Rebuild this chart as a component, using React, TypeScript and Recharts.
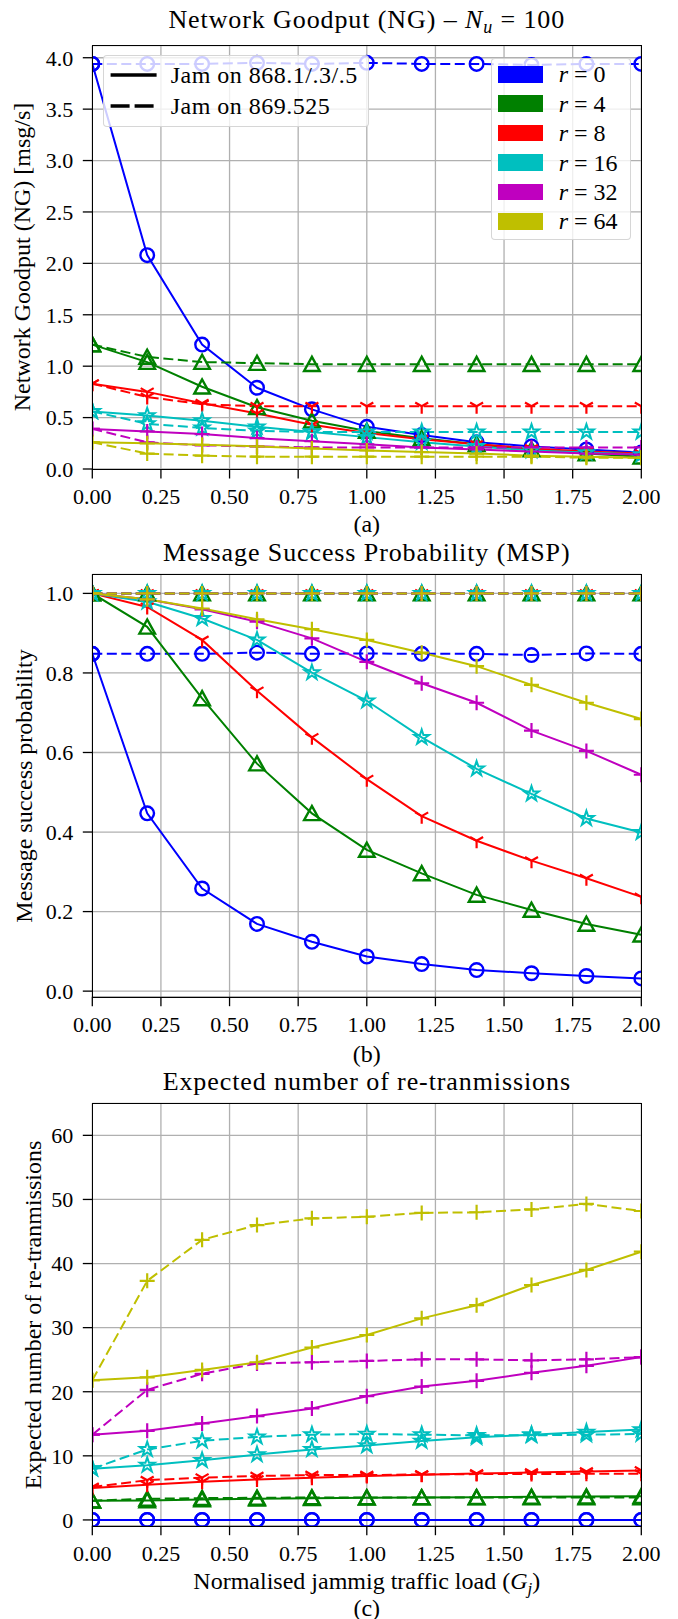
import React from 'react'
import { LineChart, Line, XAxis, YAxis, CartesianGrid } from 'recharts'

const FONT = 'Liberation Serif, Times New Roman, serif'

// jamming load G_j
const xs = [0, 0.2, 0.4, 0.6, 0.8, 1.0, 1.2, 1.4, 1.6, 1.8, 2.0]
const xTicks = [0, 0.25, 0.5, 0.75, 1, 1.25, 1.5, 1.75, 2]
const rValues = [0, 4, 8, 16, 32, 64]
const rColors = ['#0000ff', '#008000', '#ff0000', '#00bfbf', '#bf00bf', '#bfbf00']
const rMarkers = ['circle', 'triangle', 'tri', 'star', 'plus', 'plus']

// (a) network goodput, order r = 0, 4, 8, 16, 32, 64
const ngSolid = [
  [3.94, 2.08, 1.21, 0.79, 0.58, 0.41, 0.33, 0.26, 0.22, 0.19, 0.16],
  [1.21, 1.04, 0.8, 0.6, 0.47, 0.37, 0.3, 0.24, 0.19, 0.15, 0.12],
  [0.83, 0.75, 0.64, 0.54, 0.43, 0.35, 0.29, 0.24, 0.2, 0.17, 0.15],
  [0.56, 0.52, 0.47, 0.41, 0.36, 0.31, 0.26, 0.22, 0.18, 0.16, 0.14],
  [0.39, 0.365, 0.34, 0.3, 0.27, 0.24, 0.21, 0.19, 0.17, 0.15, 0.14],
  [0.26, 0.25, 0.235, 0.22, 0.2, 0.18, 0.165, 0.15, 0.13, 0.12, 0.11],
]
const ngDashed = [
  [3.94, 3.94, 3.94, 3.95, 3.94, 3.95, 3.94, 3.94, 3.93, 3.94, 3.94],
  [1.21, 1.09, 1.04, 1.03, 1.02, 1.02, 1.02, 1.02, 1.02, 1.02, 1.02],
  [0.83, 0.7, 0.63, 0.61, 0.61, 0.61, 0.61, 0.61, 0.61, 0.61, 0.61],
  [0.56, 0.44, 0.4, 0.37, 0.36, 0.36, 0.36, 0.36, 0.36, 0.36, 0.36],
  [0.39, 0.26, 0.23, 0.22, 0.21, 0.21, 0.21, 0.21, 0.21, 0.21, 0.21],
  [0.26, 0.15, 0.13, 0.12, 0.12, 0.12, 0.12, 0.12, 0.12, 0.11, 0.11],
]

// (b) message success probability
const mspSolid = [
  [0.848, 0.447, 0.258, 0.169, 0.124, 0.087, 0.068, 0.053, 0.045, 0.038, 0.032],
  [1.0, 0.916, 0.736, 0.572, 0.447, 0.355, 0.296, 0.242, 0.204, 0.169, 0.142],
  [1.0, 0.966, 0.883, 0.755, 0.638, 0.533, 0.44, 0.378, 0.328, 0.284, 0.237],
  [1.0, 0.979, 0.937, 0.883, 0.801, 0.73, 0.638, 0.559, 0.496, 0.434, 0.399],
  [1.0, 0.985, 0.96, 0.929, 0.887, 0.828, 0.774, 0.725, 0.655, 0.604, 0.544],
  [1.0, 0.985, 0.962, 0.935, 0.91, 0.883, 0.851, 0.817, 0.77, 0.725, 0.684],
]
const mspDashed = [
  [0.848, 0.848, 0.848, 0.851, 0.848, 0.849, 0.848, 0.848, 0.845, 0.849, 0.848],
  [1, 1, 1, 1, 1, 1, 1, 1, 1, 1, 1],
  [1, 1, 1, 1, 1, 1, 1, 1, 1, 1, 1],
  [1, 1, 1, 1, 1, 1, 1, 1, 1, 1, 1],
  [1, 1, 1, 1, 1, 1, 1, 1, 1, 1, 1],
  [1, 1, 1, 1, 1, 1, 1, 1, 1, 1, 1],
]

// (c) expected number of re-transmissions
const retxSolid = [
  [0, 0, 0, 0, 0, 0, 0, 0, 0, 0, 0],
  [3.0, 3.05, 3.2, 3.3, 3.4, 3.45, 3.5, 3.55, 3.6, 3.65, 3.7],
  [5.0, 5.5, 5.95, 6.3, 6.6, 6.85, 7.05, 7.25, 7.4, 7.55, 7.7],
  [8.0, 8.55, 9.3, 10.2, 11.0, 11.6, 12.3, 12.9, 13.3, 13.7, 14.1],
  [13.3, 13.9, 15.05, 16.2, 17.4, 19.3, 20.8, 21.7, 22.95, 24.05, 25.4],
  [21.8, 22.25, 23.4, 24.6, 26.9, 28.85, 31.45, 33.5, 36.65, 39.0, 41.85],
]
const retxDashed = [
  [0, 0, 0, 0, 0, 0, 0, 0, 0, 0, 0],
  [3.0, 3.3, 3.4, 3.45, 3.5, 3.5, 3.5, 3.5, 3.5, 3.5, 3.5],
  [5.15, 6.2, 6.6, 6.85, 7.0, 7.0, 7.1, 7.15, 7.15, 7.2, 7.2],
  [8.0, 11.0, 12.35, 12.95, 13.3, 13.4, 13.3, 13.2, 13.2, 13.3, 13.4],
  [13.3, 20.3, 22.8, 24.4, 24.6, 24.8, 25.05, 25.05, 24.9, 25.05, 25.4],
  [21.8, 37.3, 43.7, 46.0, 47.05, 47.3, 47.9, 48.0, 48.45, 49.3, 48.2],
]

const ngTicks = [0, 0.5, 1, 1.5, 2, 2.5, 3, 3.5, 4]
const mspTicks = [0, 0.2, 0.4, 0.6, 0.8, 1]
const retxTicks = [0, 10, 20, 30, 40, 50, 60]

const PLOT_LEFT = 92.3
const PLOT_RIGHT = 641.3
const DASH = '10 4.5'

function marker(shape: string, color: string) {
  return (p: any) => {
    const { cx, cy, index } = p
    const key = `m-${index}`
    if (cx == null || cy == null || isNaN(cx) || isNaN(cy)) return <g key={key} />
    if (shape === 'circle') {
      return <circle key={key} cx={cx} cy={cy} r={6.8} fill="none" stroke={color} strokeWidth={2.4} />
    }
    if (shape === 'triangle') {
      const pts = `${cx},${cy - 7.3} ${cx - 7.8},${cy + 6.8} ${cx + 7.8},${cy + 6.8}`
      return <polygon key={key} points={pts} fill="none" stroke={color} strokeWidth={2.4} />
    }
    if (shape === 'tri') {
      const d = `M${cx},${cy}L${cx},${cy + 7.5}M${cx},${cy}L${cx - 6.5},${cy - 3.75}M${cx},${cy}L${cx + 6.5},${cy - 3.75}`
      return <path key={key} d={d} fill="none" stroke={color} strokeWidth={2.2} />
    }
    if (shape === 'star') {
      let d = ''
      for (let k = 0; k < 10; k++) {
        const rad = k % 2 === 0 ? 7.8 : 3.0
        const a = -Math.PI / 2 + (k * Math.PI) / 5
        d += `${k === 0 ? 'M' : 'L'}${cx + rad * Math.cos(a)},${cy + rad * Math.sin(a)}`
      }
      return <path key={key} d={d + 'Z'} fill="none" stroke={color} strokeWidth={2} />
    }
    const d = `M${cx - 7.5},${cy}L${cx + 7.5},${cy}M${cx},${cy - 7.5}L${cx},${cy + 7.5}`
    return <path key={key} d={d} fill="none" stroke={color} strokeWidth={2.2} />
  }
}

function buildRows(solid: number[][], dashed: number[][]) {
  return xs.map((x, i) => {
    const row: Record<string, number> = { x }
    rValues.forEach((r, k) => {
      row['s' + r] = solid[k][i]
      row['d' + r] = dashed[k][i]
    })
    return row
  })
}

interface PanelProps {
  top: number
  height: number
  plotTop: number
  plotBottom: number
  yDomain: [number, number]
  yTicks: number[]
  yFmt: (v: number) => string
  solid: number[][]
  dashed: number[][]
}

function Panel({ top, height, plotTop, plotBottom, yDomain, yTicks, yFmt, solid, dashed }: PanelProps) {
  const rows = buildRows(solid, dashed)
  const xAxisH = 40
  const tick = { fill: '#000', fontSize: 22, fontFamily: FONT }
  const lines: React.ReactNode[] = []
  rValues.forEach((r, k) => {
    const c = rColors[k]
    lines.push(
      <Line key={'s' + r} dataKey={'s' + r} stroke={c} strokeWidth={2} dot={marker(rMarkers[k], c)}
        activeDot={false} isAnimationActive={false} />,
    )
    lines.push(
      <Line key={'d' + r} dataKey={'d' + r} stroke={c} strokeWidth={2} strokeDasharray={DASH}
        dot={marker(rMarkers[k], c)} activeDot={false} isAnimationActive={false} />,
    )
  })
  return (
    <div style={{ position: 'absolute', left: 0, top, width: 678, height }}>
      <LineChart
        width={678}
        height={height}
        data={rows}
        margin={{ top: plotTop, right: 678 - PLOT_RIGHT, left: 0, bottom: height - plotBottom - xAxisH }}
      >
        <CartesianGrid stroke="#b0b0b0" strokeWidth={1.3} />
        <XAxis
          dataKey="x"
          type="number"
          domain={[0, 2]}
          ticks={xTicks}
          interval={0}
          allowDataOverflow
          height={xAxisH}
          axisLine={false}
          tickSize={9.5}
          tickMargin={10}
          tickLine={{ stroke: '#000', strokeWidth: 1.3 }}
          tick={tick}
          tickFormatter={(v: number) => v.toFixed(2)}
        />
        <YAxis
          type="number"
          domain={yDomain}
          ticks={yTicks}
          interval={0}
          allowDataOverflow
          width={PLOT_LEFT}
          axisLine={false}
          tickSize={9.5}
          tickMargin={9.5}
          tickLine={{ stroke: '#000', strokeWidth: 1.3 }}
          tick={tick}
          tickFormatter={yFmt}
        />
        {lines}
      </LineChart>
      <div
        style={{
          position: 'absolute',
          left: PLOT_LEFT - 0.8,
          top: plotTop - 0.8,
          width: PLOT_RIGHT - PLOT_LEFT + 1.6,
          height: plotBottom - plotTop + 1.6,
          border: '1.6px solid #000',
          boxSizing: 'border-box',
          pointerEvents: 'none',
        }}
      />
    </div>
  )
}

function Caption({ x, y, size, spacing, lh, children }: { x: number; y: number; size: number; spacing?: number; lh?: number; children: React.ReactNode }) {
  return (
    <div
      style={{
        position: 'absolute',
        left: x,
        top: y,
        transform: 'translate(-50%, -50%)',
        whiteSpace: 'nowrap',
        fontSize: size,
        lineHeight: lh ?? 0.85,
        letterSpacing: spacing ?? 0,
      }}
    >
      {children}
    </div>
  )
}

function YTitle({ x, y, text }: { x: number; y: number; text: string }) {
  return (
    <div
      style={{
        position: 'absolute',
        left: x,
        top: y,
        transform: 'translate(-50%, -50%) rotate(-90deg)',
        whiteSpace: 'nowrap',
        fontSize: 24,
        lineHeight: 1,
      }}
    >
      {text}
    </div>
  )
}

function JamLegend() {
  const items = [
    { label: 'Jam on 868.1/.3/.5', dash: undefined as string | undefined },
    { label: 'Jam on 869.525', dash: '19 5' },
  ]
  return (
    <div
      style={{
        position: 'absolute', left: 102.7, top: 55, width: 266, height: 72,
        background: 'rgba(255,255,255,0.8)', border: '1.3px solid rgba(204,204,204,0.8)',
        borderRadius: 4, boxSizing: 'border-box',
      }}
    >
      {items.map((it, i) => (
        <div key={it.label} style={{ position: 'absolute', left: 0, top: 19 + i * 31, height: 0 }}>
          <svg width={50} height={8} style={{ position: 'absolute', left: 5, top: -4 }}>
            <line x1={1.6} y1={4} x2={47.6} y2={4} stroke="#000" strokeWidth={3.5} strokeDasharray={it.dash} />
          </svg>
          <div style={{ position: 'absolute', left: 67, top: 0, transform: 'translateY(-50%)', fontSize: 24, lineHeight: 1, whiteSpace: 'nowrap', letterSpacing: 0.5 }}>
            {it.label}
          </div>
        </div>
      ))}
    </div>
  )
}

function RLegend() {
  return (
    <div
      style={{
        position: 'absolute', left: 490.7, top: 58, width: 140.5, height: 182,
        background: 'rgba(255,255,255,0.8)', border: '1.3px solid rgba(204,204,204,0.8)',
        borderRadius: 4, boxSizing: 'border-box',
      }}
    >
      {rValues.map((r, k) => (
        <div key={r} style={{ position: 'absolute', left: 0, top: 15.3 + k * 29.4, height: 0 }}>
          <div style={{ position: 'absolute', left: 6.5, top: -8.3, width: 45, height: 16.7, background: rColors[k] }} />
          <div style={{ position: 'absolute', left: 67, top: 0, transform: 'translateY(-50%)', fontSize: 24, lineHeight: 1, whiteSpace: 'nowrap' }}>
            <i>r</i> = {r}
          </div>
        </div>
      ))}
    </div>
  )
}

export default function App() {
  const cx = (PLOT_LEFT + PLOT_RIGHT) / 2
  return (
    <div style={{ position: 'absolute', left: 0, top: 0, width: 678, height: 1619, background: '#fff', fontFamily: FONT, color: '#000' }}>
      <Panel top={0} height={540} plotTop={45.7} plotBottom={469} yDomain={[0, 4.117]} yTicks={ngTicks}
        yFmt={(v) => v.toFixed(1)} solid={ngSolid} dashed={ngDashed} />
      <Panel top={540} height={530} plotTop={34.3} plotBottom={456.7} yDomain={[-0.014, 1.048]} yTicks={mspTicks}
        yFmt={(v) => v.toFixed(1)} solid={mspSolid} dashed={mspDashed} />
      <Panel top={1070} height={549} plotTop={33.3} plotBottom={455.7} yDomain={[-0.9, 65]} yTicks={retxTicks}
        yFmt={(v) => String(v)} solid={retxSolid} dashed={retxDashed} />

      <JamLegend />
      <RLegend />

      <Caption x={cx} y={20} size={26} spacing={0.9}>
        Network Goodput (NG) – <i>N</i><sub style={{ fontSize: 18, verticalAlign: -5, lineHeight: 0 }}><i>u</i></sub> = 100
      </Caption>
      <Caption x={cx} y={552.5} size={26} spacing={0.9}>Message Success Probability (MSP)</Caption>
      <Caption x={cx} y={1081.5} size={26} spacing={0.9}>Expected number of re-tranmissions</Caption>

      <Caption x={cx} y={523.5} size={24}>(a)</Caption>
      <Caption x={cx} y={1054} size={24}>(b)</Caption>
      <Caption x={cx} y={1608} size={24} lh={0.75}>(c)</Caption>

      <Caption x={cx} y={1581} size={24}>
        Normalised jammig traffic load (<i>G</i><sub style={{ fontSize: 17, verticalAlign: -5, lineHeight: 0 }}><i>j</i></sub>)
      </Caption>

      <YTitle x={21.7} y={257.4} text="Network Goodput (NG) [msg/s]" />
      <YTitle x={23.8} y={785.5} text="Message success probability" />
      <YTitle x={32.5} y={1314.5} text="Expected number of re-tranmissions" />
    </div>
  )
}
